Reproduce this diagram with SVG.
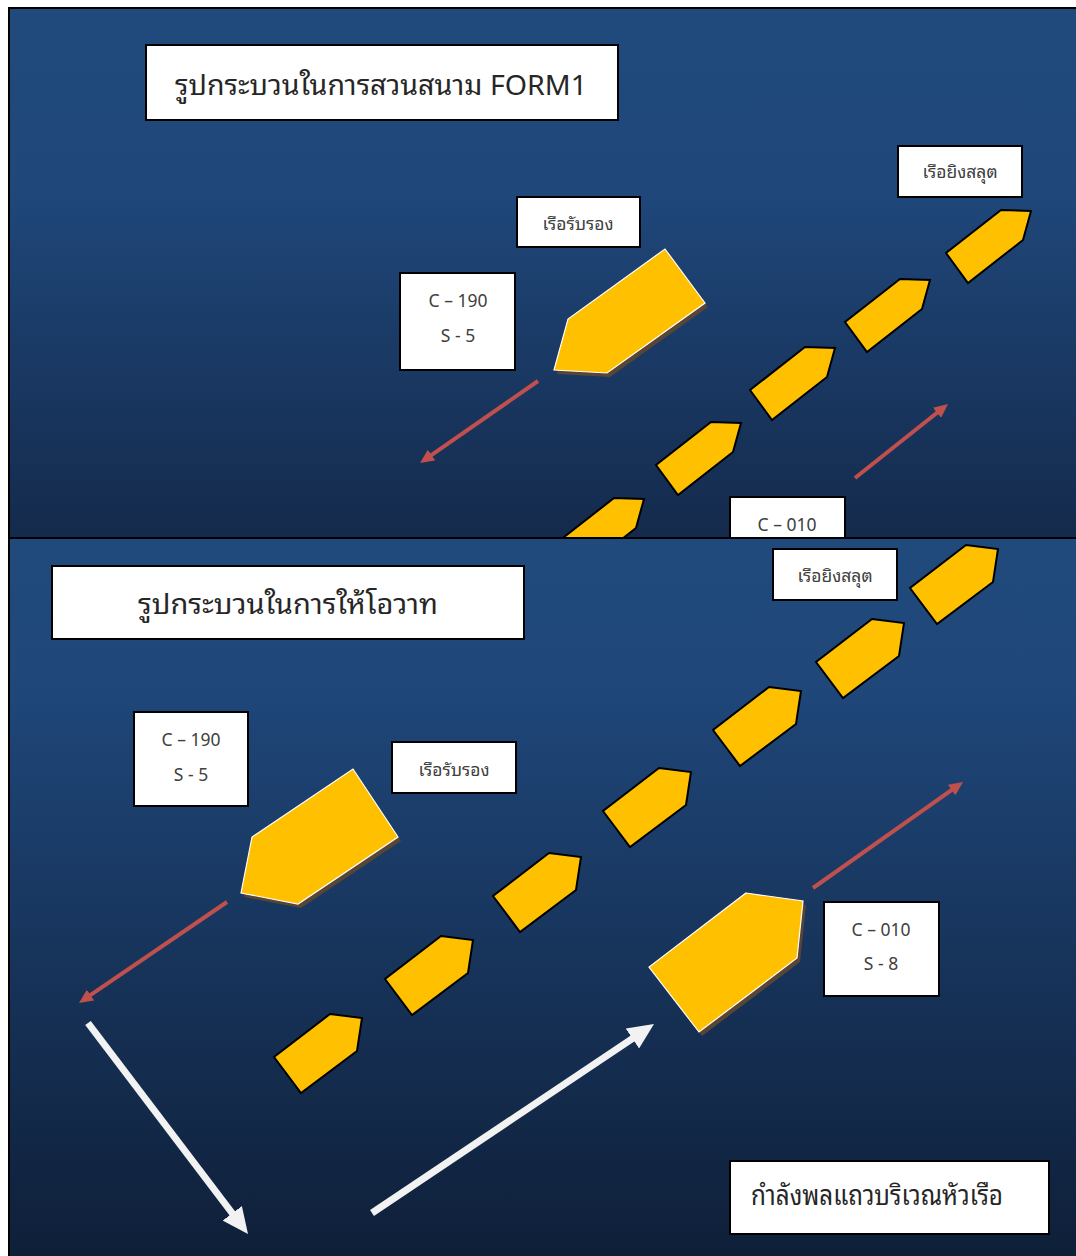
<svg xmlns="http://www.w3.org/2000/svg" width="1076" height="1256" viewBox="0 0 1076 1256">
<defs>
<linearGradient id="gTop" x1="0" y1="0" x2="0" y2="1">
<stop offset="0" stop-color="#20497c"/>
<stop offset="0.35" stop-color="#1f477a"/>
<stop offset="1" stop-color="#142a4c"/>
</linearGradient>
<linearGradient id="gBot" x1="0" y1="0" x2="0" y2="1">
<stop offset="0" stop-color="#20497c"/>
<stop offset="0.2" stop-color="#1f477a"/>
<stop offset="1" stop-color="#0e1e37"/>
</linearGradient>
<polygon id="shipS" points="0,0 30,1 22,30 -33,73 -55,43"/>
<polygon id="shipB" points="0,0 32,4 27,37 -29,79 -56,43"/>
<marker id="mRed" markerUnits="userSpaceOnUse" markerWidth="14" markerHeight="13" viewBox="0 0 14 13" refX="2" refY="6.5" orient="auto">
<path d="M0,0 L14,6.5 L0,13 z" fill="#c0504d"/>
</marker>
<marker id="mWhite" markerUnits="userSpaceOnUse" markerWidth="26" markerHeight="24" viewBox="0 0 26 24" refX="4" refY="12" orient="auto">
<path d="M0,0 L26,12 L0,24 z" fill="#f2f2f2"/>
</marker>
</defs>
<style>
.panel{stroke:#000;stroke-width:2}
.box{fill:#fff;stroke:#000;stroke-width:2}
.t{font-family:"Noto Sans Thai Looped","Noto Sans Thai","Leelawadee UI",Tahoma,"Noto Sans","DejaVu Sans",sans-serif;fill:#404040;font-size:17.5px;text-anchor:middle}
.title{font-family:"Noto Sans Thai Looped","Noto Sans Thai","Leelawadee UI",Tahoma,"Noto Sans","DejaVu Sans",sans-serif;fill:#262626;font-size:28px}
.small{fill:#ffc000;stroke:#000;stroke-width:2;stroke-linejoin:miter}
.big{fill:#ffc000;stroke:#fff;stroke-width:1.2}
.shadow{fill:#594535}
.red{stroke:#c0504d;stroke-width:4;fill:none}
.white{stroke:#f2f2f2;stroke-width:7;fill:none}
</style>
<rect x="0" y="0" width="1076" height="1256" fill="#fff"/>

<!-- TOP PANEL -->
<rect id="panel-top" class="panel" x="9" y="8" width="1080" height="530" fill="url(#gTop)"/>

<g id="title-top">
<rect class="box" x="146" y="45" width="472" height="75"/>
<text class="title" x="175" y="95" textLength="412" lengthAdjust="spacingAndGlyphs">รูปกระบวนในการสวนสนาม FORM1</text>
</g>
<g id="label-salute-top">
<rect class="box" x="898" y="146" width="124" height="51"/>
<text class="t" x="960" y="178">เรือยิงสลุต</text>
</g>
<g id="label-reception-top">
<rect class="box" x="517" y="197" width="123" height="50"/>
<text class="t" x="578" y="230">เรือรับรอง</text>
</g>
<g id="label-c190-top">
<rect class="box" x="400" y="273" width="115" height="97"/>
<text class="t" x="458" y="307">C – 190</text>
<text class="t" x="458" y="342">S - 5</text>
</g>
<g id="ship-reception-top">
<polygon class="shadow" points="665,249 705,303 607,373 554,370 568,319" transform="translate(3,4)"/>
<polygon class="big" points="665,249 705,303 607,373 554,370 568,319"/>
</g>
<g id="ship-top-1"><use href="#shipS" class="small" x="1001" y="210"/></g>
<g id="ship-top-2"><use href="#shipS" class="small" x="900" y="279"/></g>
<g id="ship-top-3"><use href="#shipS" class="small" x="805" y="347"/></g>
<g id="ship-top-4"><use href="#shipS" class="small" x="711" y="422"/></g>
<g id="ship-top-5"><use href="#shipS" class="small" x="614" y="498"/></g>
<g id="label-c010-top">
<rect class="box" x="730" y="497" width="115" height="60"/>
<text class="t" x="787" y="531">C – 010</text>
</g>
<g id="connectors-top">
<line class="red" x1="538" y1="381" x2="429.9" y2="456.2" marker-end="url(#mRed)"/>
<line class="red" x1="855" y1="478" x2="938.6" y2="411.5" marker-end="url(#mRed)"/>
</g>

<!-- BOTTOM PANEL -->
<rect id="panel-bottom" class="panel" x="9" y="538" width="1080" height="730" fill="url(#gBot)"/>

<g id="title-bottom">
<rect class="box" x="52" y="566" width="472" height="73"/>
<text class="title" x="288" y="614" text-anchor="middle" textLength="300" lengthAdjust="spacingAndGlyphs">รูปกระบวนในการให้โอวาท</text>
</g>
<g id="label-salute-bottom">
<rect class="box" x="773" y="549" width="124" height="51"/>
<text class="t" x="835" y="582">เรือยิงสลุต</text>
</g>
<g id="label-reception-bottom">
<rect class="box" x="392" y="742" width="124" height="51"/>
<text class="t" x="454" y="776">เรือรับรอง</text>
</g>
<g id="label-c190-bottom">
<rect class="box" x="134" y="712" width="114" height="94"/>
<text class="t" x="191" y="746">C – 190</text>
<text class="t" x="191" y="781">S - 5</text>
</g>
<g id="label-c010-bottom">
<rect class="box" x="824" y="902" width="115" height="94"/>
<text class="t" x="881" y="936">C – 010</text>
<text class="t" x="881" y="970">S - 8</text>
</g>
<g id="label-crew">
<rect class="box" x="730" y="1161" width="319" height="73"/>
<text class="title" x="751" y="1205" font-size="26" textLength="252" lengthAdjust="spacingAndGlyphs">กำลังพลแถวบริเวณหัวเรือ</text>
</g>
<g id="ship-reception-bottom">
<polygon class="shadow" points="353,769 398,837 298,904 241,893 252,837" transform="translate(3,4)"/>
<polygon class="big" points="353,769 398,837 298,904 241,893 252,837"/>
</g>
<g id="ship-review-bottom">
<polygon class="shadow" points="746,893 803,901 797,958 699,1032 649,967" transform="translate(3,4)"/>
<polygon class="big" points="746,893 803,901 797,958 699,1032 649,967"/>
</g>
<g id="ship-bottom-1"><use href="#shipB" class="small" x="966" y="545"/></g>
<g id="ship-bottom-2"><use href="#shipB" class="small" x="872" y="619"/></g>
<g id="ship-bottom-3"><use href="#shipB" class="small" x="769" y="687"/></g>
<g id="ship-bottom-4"><use href="#shipB" class="small" x="659" y="768"/></g>
<g id="ship-bottom-5"><use href="#shipB" class="small" x="549" y="853"/></g>
<g id="ship-bottom-6"><use href="#shipB" class="small" x="441" y="936"/></g>
<g id="ship-bottom-7"><use href="#shipB" class="small" x="330" y="1014"/></g>
<g id="connectors-bottom">
<line class="red" x1="227" y1="902" x2="88.9" y2="996.2" marker-end="url(#mRed)"/>
<line class="red" x1="813" y1="888" x2="953.2" y2="788.9" marker-end="url(#mRed)"/>
<line class="white" x1="88" y1="1023" x2="234.7" y2="1216.5" marker-end="url(#mWhite)"/>
<line class="white" x1="372" y1="1213" x2="635.7" y2="1036.3" marker-end="url(#mWhite)"/>
</g>
</svg>
